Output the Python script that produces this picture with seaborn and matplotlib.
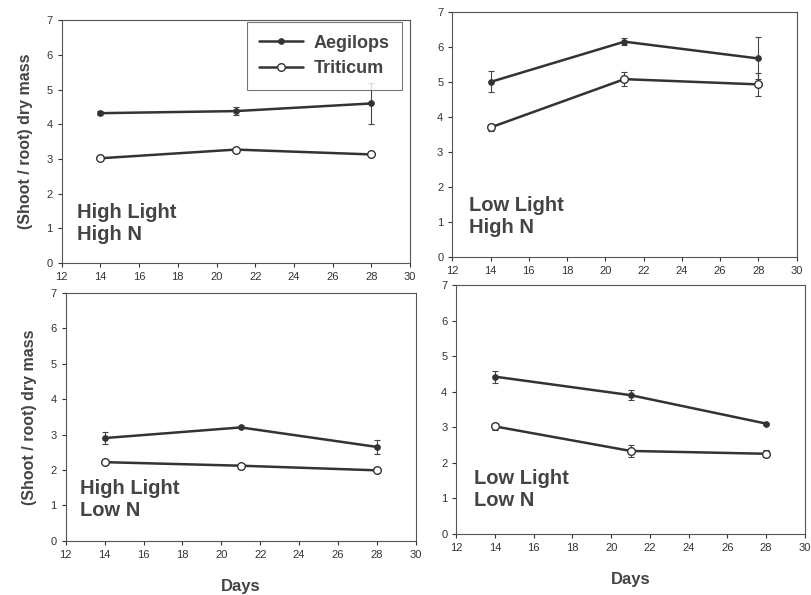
import matplotlib
matplotlib.use("Agg")
import matplotlib.pyplot as plt
from matplotlib.lines import Line2D
import seaborn as sns
import pandas as pd
import numpy as np

sns.set_style("ticks")
plt.rcParams['font.family'] = ['Liberation Sans', 'DejaVu Sans']

days = [14, 21, 28]
series = ["Aegilops", "Triticum"]
panels = ["High Light\nHigh N", "Low Light\nHigh N", "High Light\nLow N", "Low Light\nLow N"]

aegilops_mean = {
    panels[0]: [4.32, 4.38, 4.60],
    panels[1]: [5.00, 6.15, 5.67],
    panels[2]: [2.90, 3.20, 2.65],
    panels[3]: [4.42, 3.90, 3.10],
}
aegilops_err = {
    panels[0]: [0.05, 0.12, 0.58],
    panels[1]: [0.30, 0.10, 0.60],
    panels[2]: [0.17, 0.03, 0.20],
    panels[3]: [0.17, 0.15, 0.03],
}
triticum_mean = {
    panels[0]: [3.02, 3.27, 3.13],
    panels[1]: [3.70, 5.08, 4.93],
    panels[2]: [2.22, 2.12, 1.99],
    panels[3]: [3.02, 2.33, 2.25],
}
triticum_err = {
    panels[0]: [0.03, 0.03, 0.03],
    panels[1]: [0.10, 0.20, 0.33],
    panels[2]: [0.02, 0.02, 0.02],
    panels[3]: [0.10, 0.17, 0.10],
}

positions = [
    [0.076, 0.558, 0.429, 0.408],
    [0.557, 0.568, 0.424, 0.412],
    [0.081, 0.091, 0.431, 0.417],
    [0.562, 0.103, 0.429, 0.418],
]
text_pos = [(0.045, 0.08), (0.05, 0.08), (0.04, 0.085), (0.05, 0.096)]

line_c = "#333333"
text_c = "#444444"
styles = {
    "Aegilops": dict(marker="o", markersize=4, markerfacecolor=line_c,
                     markeredgecolor=line_c, markeredgewidth=0.8),
    "Triticum": dict(marker="o", markersize=5.5, markerfacecolor="white",
                     markeredgecolor=line_c, markeredgewidth=1.0),
}

fig = plt.figure(figsize=(8.12, 5.95), dpi=100)

for i, (p, pos) in enumerate(zip(panels, positions)):
    ax = fig.add_axes(pos)
    rows = []
    for d, m, e in zip(days, aegilops_mean[p], aegilops_err[p]):
        rows.append(dict(Days=d, value=m, err=e, species="Aegilops"))
    for d, m, e in zip(days, triticum_mean[p], triticum_err[p]):
        rows.append(dict(Days=d, value=m, err=e, species="Triticum"))
    df = pd.DataFrame(rows)

    for sp in series:
        sub = df[df.species == sp]
        ax.errorbar(sub.Days, sub.value, yerr=sub.err, fmt="none",
                    ecolor="#444444", elinewidth=0.8, capsize=2.0, capthick=0.8, zorder=2)
        sns.lineplot(data=sub, x="Days", y="value", color=line_c, linewidth=1.8,
                     ax=ax, legend=False, zorder=3, **styles[sp])

    ax.set_xlim(12, 30)
    ax.set_ylim(0, 7)
    ax.set_xticks(np.arange(12, 31, 2))
    ax.set_yticks(np.arange(0, 8, 1))
    ax.tick_params(labelsize=8, colors="#333333", length=3, width=0.8, direction="out")
    for s in ax.spines.values():
        s.set_visible(True)
        s.set_color("#555555")
        s.set_linewidth(0.8)
    ax.set_xlabel("")
    ax.set_ylabel("")
    tx, ty = text_pos[i]
    ax.text(tx, ty, p, transform=ax.transAxes,
            fontsize=14.5, fontweight="bold", color=text_c, va="bottom", ha="left",
            linespacing=1.2)

    if i in (0, 2):
        ax.set_ylabel("(Shoot / root) dry mass", fontsize=11.5, fontweight="bold",
                      color=text_c, labelpad=10)
    if i in (2, 3):
        ax.set_xlabel("Days", fontsize=12, fontweight="bold", color=text_c, labelpad=14)

    if i == 0:
        handles = [Line2D([], [], color=line_c, lw=1.8, **styles[sp]) for sp in series]
        leg = ax.legend(handles, series, loc="upper right",
                        prop={"size": 13, "weight": "bold"},
                        frameon=True, fancybox=False, edgecolor="#555555",
                        handlelength=2.4, borderpad=0.7, labelspacing=0.45,
                        handletextpad=0.6, borderaxespad=0.0,
                        bbox_to_anchor=(0.977, 0.992))
        for t in leg.get_texts():
            t.set_color(text_c)
        leg.get_frame().set_linewidth(0.8)

fig.savefig("out.png", dpi=100)
